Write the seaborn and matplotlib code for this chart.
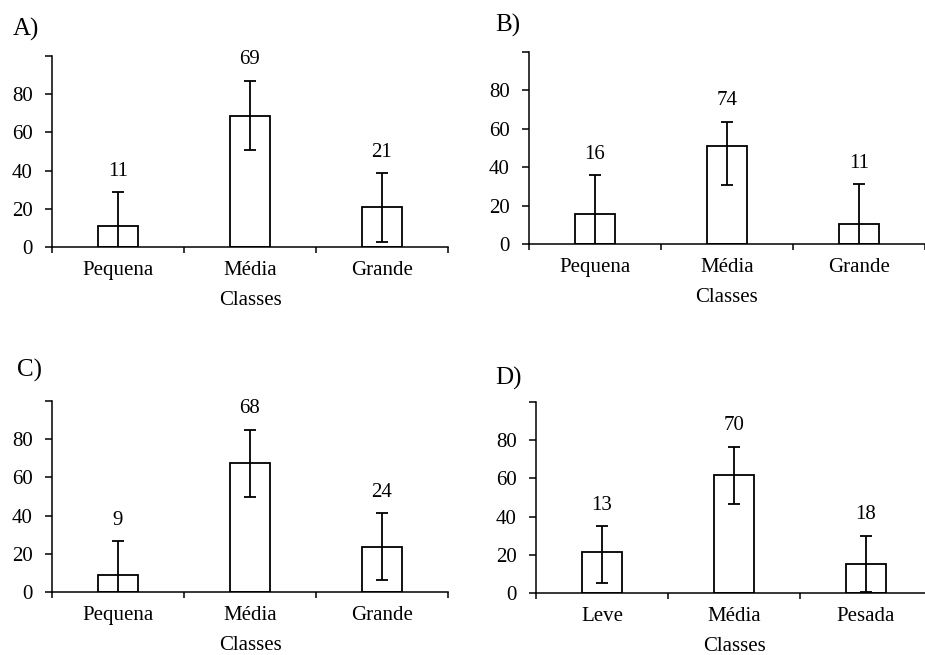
import pandas as pd
import seaborn as sns
import matplotlib.pyplot as plt

# categorias de cada painel
classes_tamanho = ["Pequena", "Média", "Grande"]
classes_carga = ["Leve", "Média", "Pesada"]

# A)
medias_A = [11, 68.7, 21]
erro_inf_A = [18, 17.7, 18.2]
erro_sup_A = [17.8, 18.3, 17.7]
rotulos_A = [11, 69, 21]

# B)
medias_B = [15.6, 51, 10.4]
erro_inf_B = [20, 20.3, 20.8]
erro_sup_B = [20.4, 12.7, 20.8]
rotulos_B = [16, 74, 11]

# C)
medias_C = [8.7, 67.5, 23.6]
erro_inf_C = [18, 17.5, 17.5]
erro_sup_C = [18, 17.5, 17.7]
rotulos_C = [9, 68, 24]

# D)
medias_D = [21.5, 61.8, 15.2]
erro_inf_D = [16.4, 15.2, 14.5]
erro_sup_D = [13.6, 14.8, 14.8]
rotulos_D = [13, 70, 18]

sns.set_theme(style="ticks")
plt.rcParams["font.family"] = ["Liberation Serif", "DejaVu Serif"]
plt.rcParams["axes.linewidth"] = 1.1

W, H = 925, 655
fig = plt.figure(figsize=(W / 100, H / 100), dpi=100)

paineis = [
    ("A)", classes_tamanho, medias_A, erro_inf_A, erro_sup_A, rotulos_A, (52, 448, 56, 247), (13, 29)),
    ("B)", classes_tamanho, medias_B, erro_inf_B, erro_sup_B, rotulos_B, (529, 925, 52, 244), (495, 25)),
    ("C)", classes_tamanho, medias_C, erro_inf_C, erro_sup_C, rotulos_C, (52, 448, 401, 592), (17, 370)),
    ("D)", classes_carga, medias_D, erro_inf_D, erro_sup_D, rotulos_D, (536, 932, 402, 593), (495, 378)),
]

for letra, classes, medias, e_inf, e_sup, rotulos, (x0, x1, y0, y1), (lx, ly) in paineis:
    ax = fig.add_axes([x0 / W, (H - y1) / H, (x1 - x0) / W, (y1 - y0) / H])
    df = pd.DataFrame({"Classe": classes, "Valor": medias})
    sns.barplot(data=df, x="Classe", y="Valor", color="white", edgecolor="black",
                linewidth=1.3, width=0.31, errorbar=None, saturation=1, ax=ax)
    pos = list(range(len(classes)))
    ax.errorbar(pos, medias, yerr=[e_inf, e_sup], fmt="none", ecolor="black",
                elinewidth=1.3, capsize=4, capthick=1.3)
    for x, m, s, r in zip(pos, medias, e_sup, rotulos):
        ax.annotate(str(r), (x, m + s), xytext=(0, 15), textcoords="offset points",
                    ha="center", va="center", fontsize=15, color="black")
    ax.set_xlim(-0.5, 2.5)
    ax.set_ylim(0, 100)
    ax.set_yticks([0, 20, 40, 60, 80, 100])
    ax.set_yticklabels(["0", "20", "40", "60", "80", ""])
    ax.set_xticks([-0.5, 0.5, 1.5, 2.5], minor=False)
    ax.set_xticklabels([])
    ax.set_xticks(pos, minor=True)
    ax.set_xticklabels(classes, minor=True)
    ax.tick_params(axis="x", which="major", direction="out", length=4, width=1.1, colors="black")
    ax.tick_params(axis="x", which="minor", length=0, pad=10, labelsize=15, labelcolor="black")
    ax.tick_params(axis="y", direction="out", length=5, width=1.1, pad=9, labelsize=15, colors="black")
    ax.set_xlabel("Classes", fontsize=15, labelpad=8, color="black")
    ax.set_ylabel("")
    for lado in ["top", "right"]:
        ax.spines[lado].set_visible(False)
    for lado in ["left", "bottom"]:
        ax.spines[lado].set_color("black")
    ax.set_facecolor("white")
    fig.text(lx / W, 1 - ly / H, letra, fontsize=18, ha="left", va="center", color="black")

fig.savefig("out.png", dpi=100, facecolor="white")
